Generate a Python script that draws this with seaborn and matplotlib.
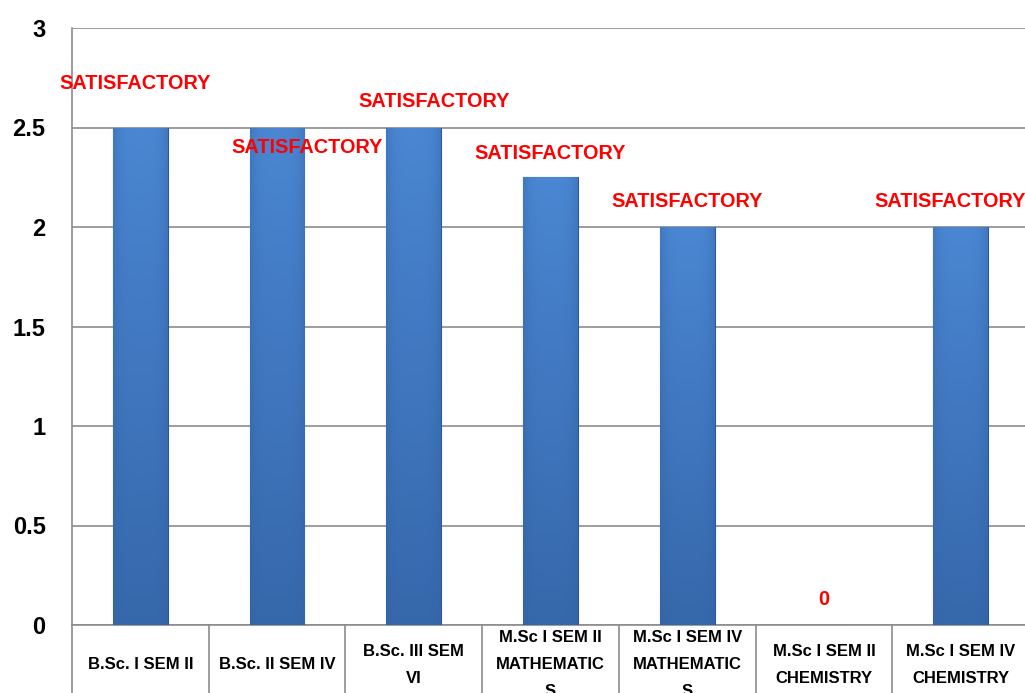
import matplotlib
matplotlib.use("Agg")
import matplotlib.pyplot as plt
import seaborn as sns
import numpy as np
import pandas as pd
from matplotlib.colors import LinearSegmentedColormap

categories = ["B.Sc. I SEM II", "B.Sc. II SEM IV", "B.Sc. III SEM\nVI",
              "M.Sc I SEM II\nMATHEMATIC\nS", "M.Sc I SEM IV\nMATHEMATIC\nS",
              "M.Sc I SEM II\nCHEMISTRY", "M.Sc I SEM IV\nCHEMISTRY"]
values = [2.5, 2.5, 2.5, 2.25, 2.0, 0.0, 2.0]
bar_labels = ["SATISFACTORY", "SATISFACTORY", "SATISFACTORY", "SATISFACTORY",
              "SATISFACTORY", "0", "SATISFACTORY"]
yticks = [0, 0.5, 1, 1.5, 2, 2.5, 3]
ytick_labels = ["0", "0.5", "1", "1.5", "2", "2.5", "3"]

# label placement (offsets relative to category centre / value)
label_dx = [-0.04, 0.22, 0.15, 0.0, 0.0, 0.0, -0.08]
label_y = [2.72, 2.40, 2.63, 2.37, 2.13, 0.13, 2.13]

sns.set_theme(style="white")
plt.rcParams['font.family'] = ['Liberation Sans', 'DejaVu Sans']

W, H = 1025, 693
fig = plt.figure(figsize=(W / 100, H / 100), dpi=100)
left, right, top, bottom = 72, 1029, 28, 625
ax = fig.add_axes([left / W, (H - bottom) / H, (right - left) / W, (bottom - top) / H])

df = pd.DataFrame({"cat": categories, "val": values})
sns.barplot(data=df, x="cat", y="val", ax=ax, color="#3f77c4", width=0.40,
            edgecolor="#2d5a96", linewidth=0.8, saturation=1, zorder=3)

# gradient overlay on bars
cmap = LinearSegmentedColormap.from_list("g", ["#2f5e9e", "#4a86d2"])
hgrad = np.linspace(0, 1, 64)
for p in ax.patches:
    x0, y0 = p.get_x(), p.get_y()
    w, h = p.get_width(), p.get_height()
    if h <= 0:
        continue
    v = np.linspace(0, 1, 200).reshape(-1, 1)
    hprof = 1 - 0.35 * (np.abs(hgrad - 0.5) * 2) ** 4
    img = (0.25 + 0.75 * v) * hprof.reshape(1, -1)
    im = ax.imshow(img, cmap=cmap, vmin=0, vmax=1, origin="lower",
                   extent=[x0, x0 + w, y0, y0 + h], aspect="auto", zorder=3.5)
    im.set_clip_path(p)

ax.set_xlim(-0.5, len(categories) - 0.5)
ax.set_ylim(0, 3)
ax.set_yticks(yticks)
ax.set_yticklabels(ytick_labels, fontsize=17, fontweight="bold", color="black")
ax.tick_params(axis="y", length=0, pad=19)
ax.set_xticks([])
ax.set_xlabel("")
ax.set_ylabel("")
ax.grid(axis="y", color="#8c8c8c", linewidth=1.2, zorder=0)
ax.set_axisbelow(True)
for s in ["top", "right"]:
    ax.spines[s].set_visible(False)
ax.spines["left"].set_color("#8c8c8c")
ax.spines["bottom"].set_color("#8c8c8c")
ax.spines["left"].set_linewidth(1.2)
ax.spines["bottom"].set_linewidth(1.2)

# category labels in table-like boxes
trans = ax.get_xaxis_transform()
for i, c in enumerate(categories):
    ax.text(i, -0.067, c, transform=trans, ha="center", va="center",
            fontsize=12, fontweight="bold", color="black", linespacing=2.0,
            clip_on=False)
for i in range(len(categories) + 1):
    ax.plot([i - 0.5, i - 0.5], [0, -0.2], transform=trans, color="#8c8c8c",
            linewidth=1.2, clip_on=False)

for i, (lab, dx, yv) in enumerate(zip(bar_labels, label_dx, label_y)):
    ax.text(i + dx, yv, lab, ha="center", va="center", fontsize=14.3,
            fontweight="bold", color="#ff0000", zorder=5, clip_on=False)

fig.savefig("out.png", dpi=100)
